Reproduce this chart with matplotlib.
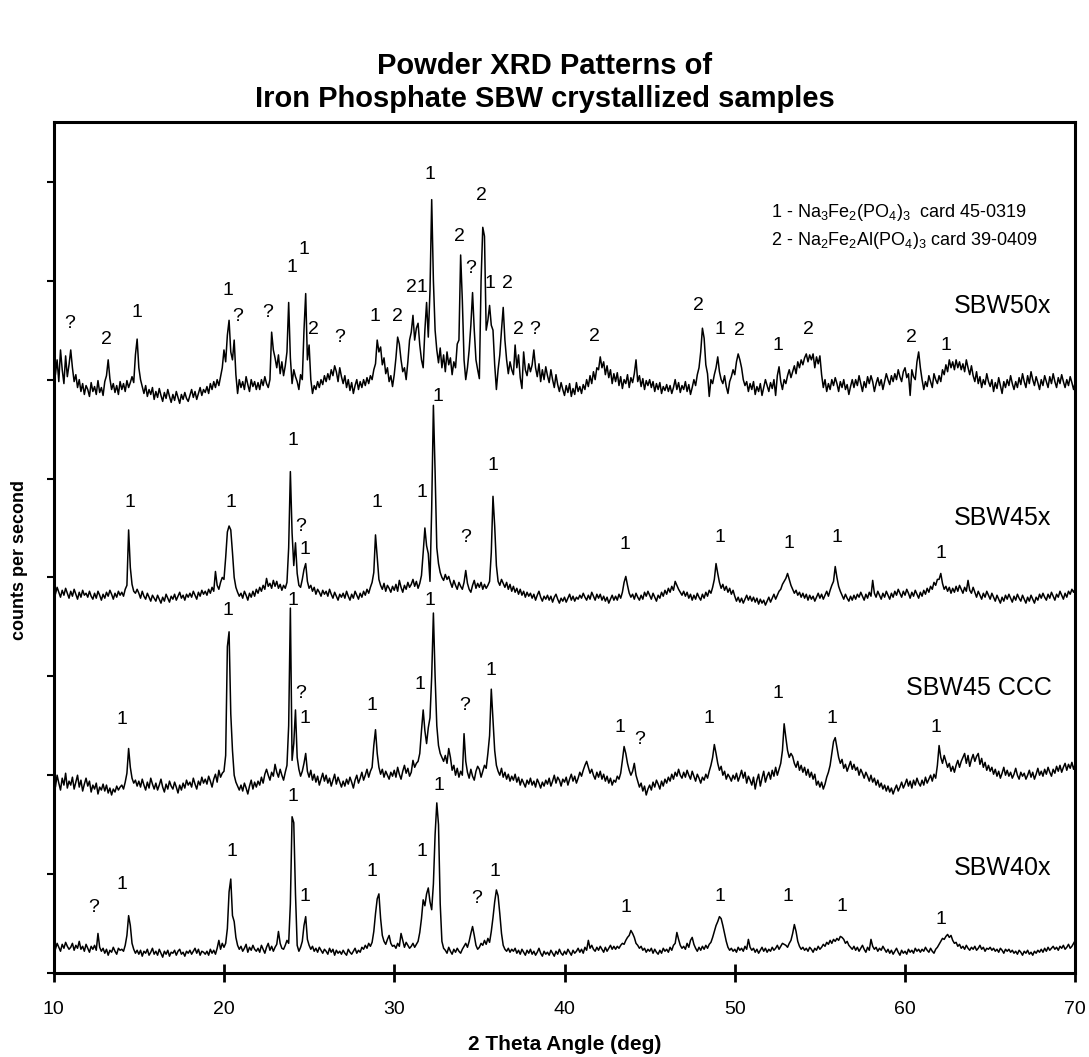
import numpy as np
import matplotlib
matplotlib.use("Agg")
import matplotlib.pyplot as plt

plt.rcParams['font.family'] = ['Liberation Sans', 'DejaVu Sans']
plt.rcParams['mathtext.default'] = 'regular'

# 2 theta scan grid, 0.1 deg step
two_theta = np.linspace(10, 70, 601)

# counts per second, traces already offset
sbw50x = [
    612,605,620,598,630,610,596,624,603,615,
    630,612,598,605,592,600,588,596,585,594,
    590,583,597,588,593,585,599,587,592,584,
    598,604,620,601,590,596,587,594,585,598,
    590,596,588,599,592,597,603,597,625,641,
    612,600,593,586,594,583,590,585,592,580,
    588,582,591,584,578,587,581,590,583,577,
    585,579,588,582,576,585,580,587,581,578,
    584,590,582,588,580,586,592,584,590,587,
    593,586,596,590,598,592,600,594,603,612,
    630,618,645,660,628,620,640,605,586,600,
    592,598,590,603,595,588,600,593,598,590,
    597,590,600,594,603,596,592,600,648,630,
    622,612,625,606,618,604,614,628,678,622,
    596,610,603,598,590,605,600,650,687,620,
    635,600,586,594,590,598,592,600,595,604,
    598,606,600,610,604,614,608,598,612,603,
    596,604,592,600,589,597,586,594,600,590,
    598,592,600,594,602,596,604,600,610,616,
    640,628,633,615,622,606,612,598,604,593,
    605,622,643,636,620,608,612,600,618,640,
    648,665,640,652,657,635,620,612,650,678,
    643,690,782,700,650,630,617,632,612,625,
    608,628,615,622,605,618,612,636,640,726,
    680,620,600,612,630,655,688,650,620,610,
    601,700,754,745,650,660,675,655,650,615,
    590,610,625,650,673,640,620,606,618,610,
    605,635,612,625,602,591,628,610,604,616,
    608,615,630,612,603,616,598,610,600,613,
    604,597,610,600,592,605,595,588,597,590,
    584,594,587,596,583,591,585,597,588,593,
    586,595,590,600,593,604,596,608,600,612,
    610,623,612,618,605,614,602,610,596,606,
    598,607,594,603,591,600,596,605,592,602,
    597,606,620,598,604,593,601,590,599,594,
    600,592,598,588,596,590,597,586,593,589,
    595,588,594,586,592,600,590,597,587,594,
    590,598,588,595,585,592,600,594,605,612,
    628,652,642,615,606,583,600,596,605,612,
    623,608,600,596,604,593,586,598,603,610,
    605,618,626,620,612,600,594,598,588,596,
    590,598,585,593,588,596,584,592,600,594,
    588,597,591,600,584,604,613,598,590,600,
    596,604,610,602,608,614,606,618,612,620,
    615,622,626,618,625,620,626,612,623,616,
    624,605,592,600,588,596,590,600,594,602,
    596,588,598,592,600,590,595,585,593,600,
    592,600,594,604,596,588,598,592,603,596,
    604,598,588,596,602,594,600,590,598,606,
    600,595,604,598,606,600,610,603,598,608,
    612,602,606,584,610,603,600,618,628,612,
    600,590,598,593,604,598,592,606,600,596,
    604,598,610,605,615,608,620,612,618,610,
    620,612,618,610,616,608,620,612,605,614,
    604,598,608,596,603,592,600,595,606,598,
    593,600,588,597,591,602,594,586,598,592,
    600,594,604,596,590,598,592,602,595,606,
    598,592,604,596,608,600,594,603,597,590,
    600,594,604,598,592,603,596,606,598,592,
    602,596,605,598,592,600,594,603,597,590,
    598]

sbw45x = [
    388,383,390,385,380,387,382,389,384,379,
    386,381,388,383,378,385,380,387,382,384,
    380,386,381,378,384,379,386,382,377,383,
    379,385,381,387,383,378,384,380,386,382,
    385,381,388,392,448,410,393,386,384,388,
    384,379,386,381,378,384,380,376,382,379,
    376,382,378,374,380,376,383,379,375,381,
    378,383,377,381,385,379,382,377,383,380,
    384,380,386,382,378,385,381,387,383,386,
    382,388,384,390,386,406,392,388,395,400,
    398,420,446,452,448,425,400,390,385,381,
    384,379,386,382,377,384,380,386,381,388,
    384,390,386,392,388,399,391,394,389,397,
    391,396,389,393,387,392,389,395,430,507,
    445,412,435,404,392,390,398,408,414,396,
    389,392,386,390,383,388,385,381,387,383,
    386,381,388,383,379,385,381,377,383,380,
    384,379,386,381,377,383,379,386,382,378,
    384,380,386,382,388,384,390,395,405,443,
    420,398,392,388,394,386,392,389,385,391,
    387,393,386,397,390,385,392,388,395,390,
    393,398,391,396,389,394,402,425,450,432,
    424,396,470,574,507,430,414,405,400,397,
    403,398,401,395,390,397,392,388,395,391,
    388,395,407,394,388,385,392,397,389,394,
    390,395,388,393,389,392,396,425,482,452,
    412,396,392,398,394,390,395,388,393,386,
    391,385,389,383,388,382,386,380,385,381,
    384,379,383,377,382,386,380,376,381,378,
    382,377,381,375,380,383,378,374,379,376,
    380,375,379,383,377,381,376,380,378,382,
    379,384,380,377,382,378,385,381,377,383,
    379,383,377,381,376,380,374,378,382,377,
    381,377,383,379,385,395,401,392,384,380,
    383,378,384,380,377,382,378,385,381,386,
    382,378,384,380,376,382,379,385,381,387,
    383,389,385,391,387,396,392,388,385,382,
    386,381,385,379,383,377,382,378,384,380,
    377,383,379,385,381,387,384,390,398,414,
    404,395,389,393,387,391,385,389,383,387,
    381,376,380,375,379,374,378,382,377,381,
    376,380,375,379,373,378,374,377,372,376,
    380,375,379,383,378,382,386,388,393,396,
    399,404,398,392,388,384,387,382,385,380,
    384,379,383,377,382,378,381,376,380,384,
    379,383,378,382,386,381,387,392,396,411,
    400,391,386,382,378,383,379,376,381,377,
    382,378,383,380,385,381,377,383,379,385,
    381,397,384,380,386,382,378,384,380,386,
    382,378,384,380,386,382,388,384,380,386,
    382,388,384,379,385,381,387,383,379,385,
    381,387,383,389,385,391,388,395,392,398,
    398,404,394,388,391,386,390,384,389,385,
    391,386,392,388,384,390,386,397,387,384,
    390,385,380,386,382,378,384,380,386,382,
    378,384,380,376,382,378,374,380,376,382,
    378,383,379,375,381,377,383,379,376,382,
    378,374,380,376,382,378,374,380,377,383,
    379,384,380,377,383,379,385,381,377,383,
    380,386,382,378,384,380,386,383,388,385,
    389]

sbw45_ccc = [
    196,188,200,192,185,197,190,202,187,194,
    190,198,186,193,200,188,195,184,191,197,
    189,194,183,190,186,192,181,188,185,191,
    184,190,182,187,180,186,183,189,185,188,
    190,186,193,202,227,208,197,192,195,189,
    194,188,196,190,185,193,187,197,191,186,
    192,185,190,196,188,183,191,186,194,189,
    186,193,188,182,190,185,192,187,195,190,
    193,188,197,191,186,194,190,198,192,196,
    191,199,194,188,196,201,193,205,198,202,
    204,220,330,345,262,225,200,193,189,185,
    190,184,192,187,181,189,195,186,193,188,
    194,190,198,192,201,206,200,195,203,199,
    211,203,198,206,200,195,203,210,250,369,
    215,232,266,218,206,199,204,212,222,204,
    198,205,195,201,193,199,190,196,202,194,
    200,192,197,189,195,201,191,198,193,188,
    194,189,196,191,198,193,187,195,200,192,
    197,203,195,200,206,198,204,208,230,246,
    222,208,201,206,198,204,200,196,203,199,
    205,198,208,201,196,204,210,202,207,199,
    203,215,208,212,214,222,245,266,245,232,
    248,258,300,364,300,250,230,222,218,214,
    220,212,227,218,205,210,200,207,198,204,
    200,242,214,203,197,206,199,195,204,209,
    206,198,204,210,207,222,240,287,255,225,
    210,204,200,207,198,203,196,201,194,199,
    195,201,193,198,190,196,192,188,195,191,
    197,190,194,188,196,192,187,193,189,195,
    191,197,189,194,200,192,198,195,189,196,
    193,198,190,196,201,194,199,192,197,203,
    199,205,210,214,208,202,206,200,196,203,
    198,204,196,201,194,199,192,197,190,195,
    193,199,196,202,215,229,222,212,205,200,
    204,212,200,194,188,192,184,189,180,186,
    190,185,193,188,195,191,186,194,189,196,
    192,198,194,201,196,203,199,206,200,197,
    203,198,205,200,196,204,199,194,201,197,
    192,198,195,201,197,204,210,218,231,222,
    212,205,209,200,204,196,201,198,194,200,
    196,202,194,199,205,197,203,192,199,195,
    190,198,186,195,201,189,197,204,193,199,
    203,196,205,199,208,200,206,212,225,252,
    238,225,218,222,219,212,208,214,205,210,
    203,208,200,206,198,203,196,201,190,194,
    188,193,186,191,198,203,210,222,234,238,
    228,218,212,216,207,211,204,209,214,206,
    211,205,208,200,206,202,197,203,199,194,
    200,193,197,190,195,188,192,186,190,184,
    189,183,187,181,186,190,184,188,193,187,
    191,196,189,194,187,195,190,197,192,189,
    195,190,198,192,196,200,194,201,197,210,
    230,218,212,220,214,208,212,204,209,203,
    210,215,208,214,218,222,212,220,209,216,
    221,214,219,222,211,217,208,213,205,210,
    204,208,201,206,199,204,197,202,208,200,
    205,199,203,197,201,207,200,196,203,199,
    202,196,200,205,198,203,196,201,207,200,
    204,199,206,201,208,203,199,206,202,209,
    204,210,203,208,212,205,211,207,213,206,
    212]

sbw40x = [
    28,24,30,26,22,29,25,31,27,24,
    26,30,23,28,25,32,24,27,22,29,
    25,21,27,24,28,23,40,26,22,25,
    20,24,18,23,21,26,22,19,25,23,
    24,22,28,38,58,48,30,24,20,23,
    19,23,17,22,20,24,18,21,25,19,
    22,18,24,20,16,22,19,23,17,21,
    20,23,18,22,24,19,21,17,22,20,
    23,19,22,25,20,24,18,22,21,19,
    22,18,24,20,23,19,25,33,24,30,
    26,30,45,82,95,58,52,36,28,24,
    27,22,25,29,21,26,23,28,24,22,
    25,21,28,24,20,26,30,23,27,22,
    26,29,42,30,25,24,28,33,30,70,
    158,152,80,28,22,26,32,48,57,34,
    28,24,27,22,25,21,26,23,20,24,
    22,19,25,21,24,18,23,20,22,19,
    23,20,18,24,21,19,22,25,20,23,
    21,26,24,28,25,30,27,31,42,60,
    75,80,55,38,32,29,34,38,30,27,
    28,25,30,27,40,33,26,31,28,25,
    27,30,26,29,32,41,55,74,68,80,
    86,72,64,90,140,172,150,70,32,25,
    23,20,26,22,19,24,21,25,22,20,
    24,27,30,26,32,40,47,38,28,24,
    26,30,28,33,29,35,31,42,56,72,
    84,78,60,40,28,24,22,25,21,24,
    22,25,20,23,19,24,21,18,23,20,
    24,19,22,18,21,25,20,17,22,19,
    21,18,23,20,17,22,19,24,20,18,
    22,19,24,21,18,23,20,22,25,21,
    24,20,26,23,33,25,28,24,22,26,
    23,27,24,21,26,22,25,28,24,27,
    24,27,25,28,30,29,33,36,38,43,
    40,36,30,28,25,27,23,25,21,24,
    22,25,20,24,21,19,23,20,25,22,
    24,21,26,23,28,30,41,34,28,25,
    27,24,30,26,33,36,29,25,22,26,
    23,27,24,28,25,29,31,36,42,48,
    52,57,55,48,40,32,26,23,25,22,
    24,21,26,23,25,22,27,24,34,26,
    23,25,21,24,20,23,26,22,25,21,
    24,22,26,23,25,28,24,27,30,29,
    28,26,30,33,40,49,42,32,27,24,
    26,23,25,22,26,24,21,25,23,27,
    24,26,29,27,31,29,33,30,34,32,
    35,33,37,36,34,30,32,28,26,24,
    27,23,26,22,25,28,24,21,26,23,
    34,27,24,26,22,25,23,27,24,21,
    24,20,23,19,22,25,21,18,23,20,
    22,19,24,21,23,20,25,22,24,21,
    24,22,26,23,21,25,22,20,24,26,
    29,32,35,34,37,39,36,38,33,30,
    31,27,29,25,27,24,28,25,23,26,
    24,27,23,25,28,24,26,22,25,24,
    26,23,25,22,24,21,25,23,20,24,
    22,24,21,23,20,22,19,23,21,18,
    22,20,23,19,21,18,22,20,23,21,
    24,21,25,22,26,23,25,27,24,26,
    23,27,25,28,24,26,29,25,27,30,
    33]

sample_names = ["SBW50x", "SBW45x", "SBW45 CCC", "SBW40x"]
name_y = [674, 460, 288, 106]

# phase marks: (text, 2theta, height)
peak_marks = [
    # SBW50x
    ("?", 10.92, 657), ("2", 13.07, 641), ("1", 14.86, 668), ("1", 20.23, 690),
    ("?", 20.78, 664), ("?", 22.58, 668), ("1", 23.98, 713), ("1", 24.69, 732),
    ("2", 25.25, 651), ("?", 26.82, 643), ("1", 28.89, 664), ("2", 30.17, 664),
    ("21", 31.33, 693), ("1", 32.11, 807), ("2", 33.82, 745), ("?", 34.5, 712),
    ("2", 35.15, 786), ("1", 35.64, 697), ("2", 36.65, 697), ("2", 37.32, 651),
    ("?", 38.22, 651), ("2", 41.74, 644), ("2", 47.87, 675), ("1", 49.15, 651),
    ("2", 50.26, 650), ("1", 52.56, 634), ("2", 54.3, 651), ("2", 60.36, 643),
    ("1", 62.39, 634),
    # SBW45x
    ("1", 14.47, 476), ("1", 20.43, 476), ("1", 24.04, 538), ("?", 24.53, 451),
    ("1", 24.77, 428), ("1", 28.98, 476), ("1", 31.62, 486), ("1", 32.54, 583),
    ("?", 34.21, 440), ("1", 35.77, 513), ("1", 43.56, 433), ("1", 49.12, 440),
    ("1", 53.16, 434), ("1", 55.98, 440), ("1", 62.09, 424),
    # SBW45 CCC
    ("1", 14.02, 256), ("1", 20.23, 367), ("1", 24.04, 377), ("?", 24.53, 283),
    ("1", 24.77, 257), ("1", 28.67, 270), ("1", 31.53, 292), ("1", 32.07, 377),
    ("?", 34.13, 270), ("1", 35.69, 306), ("1", 43.23, 248), ("?", 44.44, 236),
    ("1", 48.5, 257), ("1", 52.52, 283), ("1", 55.72, 257), ("1", 61.8, 248),
    # SBW40x
    ("?", 12.32, 66), ("1", 14.02, 89), ("1", 20.47, 123), ("1", 24.04, 178),
    ("1", 24.77, 77), ("1", 28.67, 103), ("1", 31.62, 123), ("1", 32.6, 190),
    ("?", 34.85, 75), ("1", 35.93, 103), ("1", 43.6, 66), ("1", 49.1, 77),
    ("1", 53.12, 77), ("1", 56.27, 67), ("1", 62.09, 54),
]

legend_lines = [
    r"1 - Na$_3$Fe$_2$(PO$_4$)$_3$  card 45-0319",
    r"2 - Na$_2$Fe$_2$Al(PO$_4$)$_3$ card 39-0409",
]

# axes box in pixels: left 53.7, right 1075.3, bottom 973, top 122
fig = plt.figure(figsize=(10.89, 10.57), dpi=100)
ax = fig.add_axes([53.7 / 1089, 84 / 1057, 1021.6 / 1089, 851 / 1057])

for y in [sbw50x, sbw45x, sbw45_ccc, sbw40x]:
    ax.plot(two_theta, y, color='black', lw=1.1)

for txt, x, y in peak_marks:
    ax.text(x, y, txt, ha='center', va='center', fontsize=14)

for name, y in zip(sample_names, name_y):
    ax.text(68.6, y, name, ha='right', va='center', fontsize=18)

ax.text(52.1, 769, legend_lines[0], fontsize=13, va='center')
ax.text(52.1, 741, legend_lines[1], fontsize=13, va='center')

ax.set_xlim(10, 70)
ax.set_ylim(0, 860.5)
ax.set_xticks(range(10, 71, 10))
ax.set_yticks(range(0, 801, 100))
ax.set_yticklabels([])
ax.tick_params(axis='x', direction='inout', length=13, width=2, labelsize=14, pad=14)
ax.tick_params(axis='y', direction='out', length=5, width=1.5)
for s in ax.spines.values():
    s.set_linewidth(2.2)

fig.text(564.5 / 1089, 1 - 1045 / 1057, "2 Theta Angle (deg)", ha='center', va='center',
         fontsize=15, fontweight='bold')
fig.text(20 / 1089, 1 - 560 / 1057, "counts per second", ha='center', va='center',
         rotation=90, fontsize=13, fontweight='bold')
fig.text(545 / 1089, 1 - 66 / 1057, "Powder XRD Patterns of", ha='center', va='center',
         fontsize=21, fontweight='bold')
fig.text(545 / 1089, 1 - 99 / 1057, "Iron Phosphate SBW crystallized samples", ha='center',
         va='center', fontsize=21, fontweight='bold')

fig.savefig("out.png", dpi=100)
